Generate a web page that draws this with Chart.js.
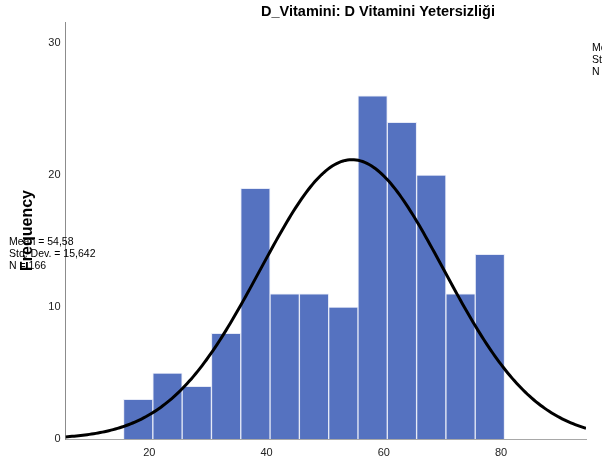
<!DOCTYPE html>
<html>
<head>
<meta charset="utf-8">
<script src="https://cdn.jsdelivr.net/npm/chart.js@4/dist/chart.umd.min.js"></script>
<style>
  html, body { margin: 0; padding: 0; background: #fff; }
  #wrap { width: 602px; height: 463px; }
</style>
</head>
<body>
<div id="wrap"><canvas id="c" width="602" height="463"></canvas></div>
<script>
// Histogram of D vitamin deficiency scores with a fitted normal curve
const TITLE = 'D_Vitamini: D Vitamini Yetersizliği';
const Y_TITLE = 'Frequency';

// Lower edge of each 5-unit bin and its count
const BIN_LOWER = [15.6, 20.6, 25.6, 30.6, 35.6, 40.6, 45.6, 50.6, 55.6, 60.6, 65.6, 70.6, 75.6];
const FREQUENCY = [3, 5, 4, 8, 19, 11, 11, 10, 26, 24, 20, 11, 14];
const BIN_WIDTH = 5;

// Summary statistics shown beside the plot
const MEAN = 54.58;
const STD_DEV = 15.642;
const N = 166;

const X_TICKS = [20, 40, 60, 80];
const Y_TICKS = [0, 10, 20, 30];
const X_MIN = 5.7, X_MAX = 94.5;
const Y_MAX = 31.6;

const fmt = (v, d) => v.toFixed(d).replace('.', ',');
const STAT_LINES = [
  'Mean = ' + fmt(MEAN, 2),
  'Std. Dev. = ' + fmt(STD_DEV, 3),
  'N = ' + N
];

// Bar centres on the linear x axis
const barPoints = BIN_LOWER.map((lo, i) => ({ x: lo + BIN_WIDTH / 2, y: FREQUENCY[i] }));

// Normal density scaled to counts per bin
const curvePoints = [];
const STEPS = 240;
for (let i = 0; i <= STEPS; i++) {
  const x = X_MIN + (X_MAX - X_MIN) * i / STEPS;
  const z = (x - MEAN) / STD_DEV;
  const y = N * BIN_WIDTH / (STD_DEV * Math.sqrt(2 * Math.PI)) * Math.exp(-0.5 * z * z);
  curvePoints.push({ x, y });
}

const FONT = "'Liberation Sans', Arial, sans-serif";

const annotations = {
  id: 'annotations',
  afterDraw(chart) {
    const ctx = chart.ctx;
    ctx.save();
    ctx.fillStyle = '#000';
    ctx.textBaseline = 'middle';
    ctx.textAlign = 'center';
    ctx.font = 'bold 14.5px ' + FONT;
    ctx.fillText(TITLE, 378, 12);

    ctx.textAlign = 'left';
    ctx.font = '10.5px ' + FONT;
    STAT_LINES.forEach((t, i) => ctx.fillText(t, 9, 242 + i * 12));
    STAT_LINES.forEach((t, i) => ctx.fillText(t, 592, 48 + i * 12));
    ctx.restore();
  }
};

new Chart(document.getElementById('c'), {
  type: 'bar',
  data: {
    datasets: [
      {
        type: 'line',
        data: curvePoints,
        borderColor: '#000',
        borderWidth: 3,
        pointRadius: 0,
        fill: false,
        order: 0
      },
      {
        type: 'bar',
        data: barPoints,
        backgroundColor: '#5572c0',
        borderColor: '#e6eaf7',
        borderWidth: 1,
        categoryPercentage: 1,
        barPercentage: 1,
        grouped: false,
        order: 1
      }
    ]
  },
  options: {
    responsive: false,
    animation: false,
    devicePixelRatio: 1,
    layout: { padding: { top: 22, right: 16, left: 0, bottom: 0 } },
    plugins: {
      legend: { display: false },
      tooltip: { enabled: false },
      title: { display: false }
    },
    scales: {
      x: {
        type: 'linear',
        min: X_MIN,
        max: X_MAX,
        offset: false,
        grid: { display: false, drawTicks: false, offset: false },
        border: { display: true, color: '#a8a8a8', width: 1 },
        afterBuildTicks: s => { s.ticks = X_TICKS.map(v => ({ value: v })); },
        afterFit: s => { s.height = 24; },
        ticks: {
          padding: 7,
          maxRotation: 0,
          color: '#222',
          font: { family: FONT, size: 11 }
        }
      },
      y: {
        type: 'linear',
        min: 0,
        max: Y_MAX,
        grid: { display: false, drawTicks: false },
        border: { display: true, color: '#8c8c8c', width: 1 },
        afterBuildTicks: s => { s.ticks = Y_TICKS.map(v => ({ value: v })); },
        afterFit: s => { s.width = 65.5; },
        ticks: {
          padding: 5,
          color: '#222',
          font: { family: FONT, size: 11 }
        },
        title: {
          display: true,
          text: Y_TITLE,
          color: '#000',
          font: { family: FONT, size: 16, weight: 'bold' },
          padding: { top: 18, bottom: 0 }
        }
      }
    }
  },
  plugins: [annotations]
});
</script>
</body>
</html>
